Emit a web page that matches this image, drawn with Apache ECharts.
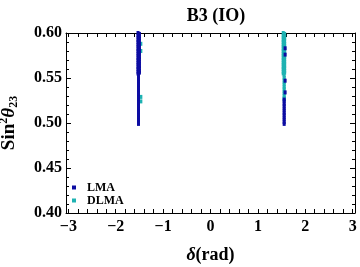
<!DOCTYPE html>
<html><head><meta charset="utf-8">
<script src="https://cdn.jsdelivr.net/npm/echarts@6/dist/echarts.min.js"></script>
<style>html,body{margin:0;padding:0;background:#fff}#c{width:360px;height:267px}</style>
</head><body><div id="c"></div>
<script>
// Tick labels
const xTicks = [-3, -2, -1, 0, 1, 2, 3];
const xMinorTicks = [-3.0,-2.8,-2.6,-2.4,-2.2,-2.0,-1.8,-1.6,-1.4,-1.2,-1.0,-0.8,-0.6,-0.4,-0.2,0,0.2,0.4,0.6,0.8,1.0,1.2,1.4,1.6,1.8,2.0,2.2,2.4,2.6,2.8,3.0];
const yTicks = [0.40, 0.45, 0.50, 0.55, 0.60];
const seriesNames = ['LMA', 'DLMA'];

// LMA points: [delta, sin^2 theta23] columns
const lmaLeftA_delta = -1.53;
const lmaLeftA = [0.600,0.597,0.595,0.592,0.590,0.587,0.585,0.582,0.580,0.577,0.575,0.572,0.570,0.567,0.565,0.562,0.560,0.557,0.555];
const lmaLeftB_delta = -1.50;
const lmaLeftB = [0.599,0.596,0.594,0.591,0.588,0.586,0.583,0.581,0.578,0.576,0.573,0.571,0.568,0.566,0.563,0.561,0.558,0.556];
const lmaLeftLow_delta = -1.52;
const lmaLeftLow = [0.553,0.550,0.548,0.545,0.543,0.540,0.538,0.535,0.533,0.530,0.528,0.525,0.523,0.520,0.518,0.515,0.513,0.510,0.508,0.505,0.503,0.500,0.499];
const lmaRightDots_delta = 1.575;
const lmaRightDots = [0.583,0.576,0.547,0.534];
const lmaRightLow_delta = 1.555;
const lmaRightLow = [0.526,0.524,0.521,0.519,0.516,0.514,0.511,0.509,0.506,0.504,0.501,0.499];

// DLMA points
const dlmaLeftDots_delta = -1.47;
const dlmaLeftDots = [0.588,0.580,0.529,0.524];
const dlmaRightA_delta = 1.535;
const dlmaRightA = [0.600,0.597,0.595,0.592,0.590,0.587,0.585,0.582,0.580,0.577,0.575,0.572,0.570,0.567,0.565,0.562,0.560,0.557,0.555];
const dlmaRightB_delta = 1.565;
const dlmaRightB = [0.599,0.596,0.594,0.591,0.588,0.586,0.583,0.581,0.578,0.576,0.573,0.571,0.568,0.566,0.563,0.561,0.558,0.556];
const dlmaRightLow_delta = 1.555;
const dlmaRightLow = [0.553,0.550,0.548,0.545,0.543,0.540,0.538,0.535,0.533,0.530,0.528,0.526];

const col = (d, ys) => ys.map(y => [d, y]);
const lmaData = [].concat(
  col(lmaLeftA_delta, lmaLeftA), col(lmaLeftB_delta, lmaLeftB), col(lmaLeftLow_delta, lmaLeftLow),
  col(lmaRightDots_delta, lmaRightDots), col(lmaRightLow_delta, lmaRightLow));
const dlmaData = [].concat(
  col(dlmaLeftDots_delta, dlmaLeftDots), col(dlmaRightA_delta, dlmaRightA),
  col(dlmaRightB_delta, dlmaRightB), col(dlmaRightLow_delta, dlmaRightLow));

const serif = '"Liberation Serif","DejaVu Serif",serif';
const colors = {LMA: '#0c0ca2', DLMA: '#1eb2b2'};
const X_MIN = -3.05, X_MAX = 3.05, Y_MIN = 0.40, Y_MAX = 0.60;

const chart = echarts.init(document.getElementById('c'), null, {renderer: 'canvas'});
const black = {color: '#000', width: 1};
chart.setOption({
  animation: false,
  backgroundColor: '#fff',
  title: {
    text: 'B3 (IO)', left: 211, top: 2, textAlign: 'center',
    textStyle: {fontFamily: serif, fontWeight: 'bold', fontSize: 18, color: '#000'}
  },
  grid: {left: 66, right: 5, top: 33, bottom: 54, containLabel: false, outerBoundsMode: 'none'},
  legend: {
    data: seriesNames, orient: 'vertical', left: 67, top: 176, itemGap: 0,
    itemWidth: 4, itemHeight: 4, icon: 'rect',
    textStyle: {fontFamily: serif, fontWeight: 'bold', fontSize: 12, lineHeight: 13, color: '#000', padding: [0, 0, 0, 6]}
  },
  xAxis: [
    {
      type: 'value', min: X_MIN, max: X_MAX, position: 'bottom',
      name: '{d|δ}(rad)', nameLocation: 'middle', nameGap: 33,
      nameTextStyle: {fontFamily: serif, fontWeight: 'bold', fontSize: 18, color: '#000',
        rich: {d: {fontFamily: serif, fontWeight: 'bold', fontStyle: 'italic', fontSize: 18, color: '#000'}}},
      axisLine: {show: true, onZero: false, lineStyle: black},
      axisTick: {show: true, inside: true, length: 4, customValues: xMinorTicks, lineStyle: black},
      axisLabel: {fontFamily: serif, fontWeight: 'bold', fontSize: 16, color: '#000', margin: 6,
        customValues: xTicks, formatter: v => (v < 0 ? '\u2212' + Math.abs(v) : String(v))},
      splitLine: {show: false}
    },
    {
      type: 'value', min: X_MIN, max: X_MAX, position: 'top',
      axisLine: {show: true, onZero: false, lineStyle: black},
      axisTick: {show: true, inside: true, length: 4, customValues: xMinorTicks, lineStyle: black},
      axisLabel: {show: false}, splitLine: {show: false}
    }
  ],
  yAxis: [
    {
      type: 'value', min: Y_MIN, max: Y_MAX, interval: 0.05, position: 'left',
      name: 'Sin{sup|2}{th|θ}{sub|23}', nameLocation: 'middle', nameGap: 46, nameRotate: 90,
      nameTextStyle: {fontFamily: serif, fontWeight: 'bold', fontSize: 19, color: '#000',
        rich: {
          sup: {fontFamily: serif, fontWeight: 'bold', fontSize: 12, verticalAlign: 'top', lineHeight: 22, color: '#000'},
          th: {fontFamily: serif, fontWeight: 'bold', fontStyle: 'italic', fontSize: 19, lineHeight: 22, color: '#000'},
          sub: {fontFamily: serif, fontWeight: 'bold', fontSize: 12, verticalAlign: 'bottom', lineHeight: 22, color: '#000'}
        }},
      axisLine: {show: true, onZero: false, lineStyle: black},
      axisTick: {show: true, inside: true, length: 5, lineStyle: black},
      minorTick: {show: true, splitNumber: 5, length: 3, lineStyle: black},
      axisLabel: {fontFamily: serif, fontWeight: 'bold', fontSize: 16, color: '#000', margin: 4,
        formatter: v => v.toFixed(2)},
      splitLine: {show: false}
    },
    {
      type: 'value', min: Y_MIN, max: Y_MAX, interval: 0.05, position: 'right',
      axisLine: {show: true, onZero: false, lineStyle: black},
      axisTick: {show: true, inside: true, length: 5, lineStyle: black},
      minorTick: {show: true, splitNumber: 5, length: 3, lineStyle: black},
      axisLabel: {show: false}, splitLine: {show: false}
    }
  ],
  series: [
    {name: 'DLMA', type: 'scatter', xAxisIndex: 0, yAxisIndex: 0, data: dlmaData,
      symbol: 'rect', symbolSize: [3, 4], itemStyle: {color: colors.DLMA, opacity: 1}, z: 2},
    {name: 'LMA', type: 'scatter', xAxisIndex: 0, yAxisIndex: 0, data: lmaData,
      symbol: 'rect', symbolSize: [3, 4], itemStyle: {color: colors.LMA, opacity: 1}, z: 3}
  ]
});
</script></body></html>
